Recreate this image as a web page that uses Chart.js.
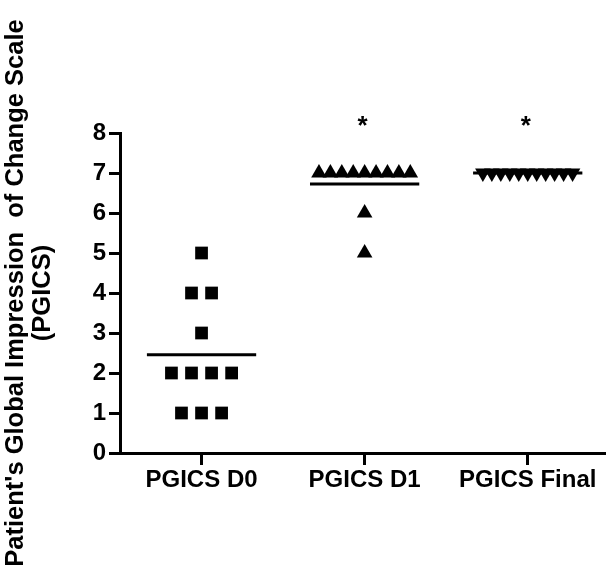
<!DOCTYPE html>
<html>
<head>
<meta charset="utf-8">
<script src="https://cdn.jsdelivr.net/npm/chart.js@4.4.0/dist/chart.umd.min.js"></script>
<style>
  html, body { margin: 0; padding: 0; background: #fff; }
  #wrap { width: 606px; height: 570px; position: relative; }
</style>
</head>
<body>
<div id="wrap"><canvas id="pgicsChart"></canvas></div>
<script>
// Data
const categories = ['PGICS D0', 'PGICS D1', 'PGICS Final'];
const d0Scores = [5, 4, 4, 3, 2, 2, 2, 2, 1, 1, 1];
const d1Scores = [7, 7, 7, 7, 7, 7, 7, 7, 7, 6, 5];
const finalScores = [7, 7, 7, 7, 7, 7, 7, 7, 7, 7, 7];
const significant = [false, true, true];
const yTickValues = [0, 1, 2, 3, 4, 5, 6, 7, 8];

const FONT = "'Liberation Sans', Arial, Helvetica, sans-serif";

// spread equal values side by side around the column centre
function spread(values, center, step) {
    const counts = {};
    values.forEach(v => { counts[v] = (counts[v] || 0) + 1; });
    const seen = {};
    return values.map(v => {
        const idx = seen[v] || 0;
        seen[v] = idx + 1;
        return { x: center + (idx - (counts[v] - 1) / 2) * step, y: v };
    });
}

const mean = arr => arr.reduce((a, b) => a + b, 0) / arr.length;

function meanDataset(values, center) {
    const m = mean(values);
    return {
        type: 'line',
        data: [{ x: center - 0.335, y: m }, { x: center + 0.335, y: m }],
        borderColor: '#000',
        borderWidth: 3,
        pointRadius: 0,
        fill: false
    };
}

// asterisks above significant columns
const starPlugin = {
    id: 'starMarks',
    afterDatasetsDraw(chart) {
        const { ctx, scales: { x, y } } = chart;
        ctx.save();
        ctx.fillStyle = '#000';
        ctx.font = 'bold 26px ' + FONT;
        ctx.textAlign = 'center';
        ctx.textBaseline = 'middle';
        significant.forEach((s, i) => {
            if (!s) return;
            ctx.fillText('*', x.getPixelForValue(i) - 2, y.getPixelForValue(8.15));
        });
        ctx.restore();
    }
};

const ctx = document.getElementById('pgicsChart').getContext('2d');
const chart = new Chart(ctx, {
    type: 'scatter',
    data: {
        datasets: [
            {
                data: spread(d0Scores, 0, 0.123),
                pointStyle: 'rect',
                pointRadius: 9,
                backgroundColor: '#000',
                borderColor: '#000',
                borderWidth: 0
            },
            {
                data: spread(d1Scores, 1, 0.07),
                pointStyle: 'triangle',
                pointRadius: 9,
                backgroundColor: '#000',
                borderColor: '#000',
                borderWidth: 0
            },
            {
                data: spread(finalScores, 2, 0.055),
                pointStyle: 'triangle',
                rotation: 180,
                pointRadius: 9,
                backgroundColor: '#000',
                borderColor: '#000',
                borderWidth: 0
            },
            meanDataset(d0Scores, 0),
            meanDataset(d1Scores, 1),
            meanDataset(finalScores, 2)
        ]
    },
    options: {
        responsive: true,
        maintainAspectRatio: false,
        animation: false,
        layout: {
            autoPadding: false,
            padding: { top: 133, right: 0, bottom: 0, left: 0 }
        },
        plugins: {
            legend: { display: false },
            tooltip: { enabled: false }
        },
        scales: {
            x: {
                type: 'linear',
                min: -0.5,
                max: 2.48,
                afterBuildTicks: scale => {
                    scale.ticks = categories.map((c, i) => ({ value: i }));
                },
                afterFit: scale => { scale.height = 117; },
                grid: {
                    drawOnChartArea: false,
                    drawTicks: true,
                    tickLength: 12,
                    tickWidth: 3,
                    color: '#000'
                },
                border: { display: true, color: '#000', width: 3 },
                ticks: {
                    color: '#000',
                    padding: 1,
                    maxRotation: 0,
                    autoSkip: false,
                    font: { family: FONT, size: 24, weight: 'bold' },
                    callback: v => categories[v]
                }
            },
            y: {
                min: 0,
                max: 8,
                afterBuildTicks: scale => {
                    scale.ticks = yTickValues.map(v => ({ value: v }));
                },
                afterFit: scale => { scale.width = 120; },
                grid: {
                    drawOnChartArea: false,
                    drawTicks: true,
                    tickLength: 11,
                    tickWidth: 3,
                    color: '#000'
                },
                border: { display: true, color: '#000', width: 3 },
                ticks: {
                    color: '#000',
                    padding: 3,
                    font: { family: FONT, size: 24, weight: 'bold' }
                },
                title: {
                    display: true,
                    text: ["Patient's Global Impression  of Change Scale", '(PGICS)'],
                    color: '#000',
                    padding: { top: 2, bottom: 0 },
                    font: { family: FONT, size: 25.5, weight: 'bold', lineHeight: 1.06 }
                }
            }
        }
    },
    plugins: [starPlugin]
});
</script>
</body>
</html>
